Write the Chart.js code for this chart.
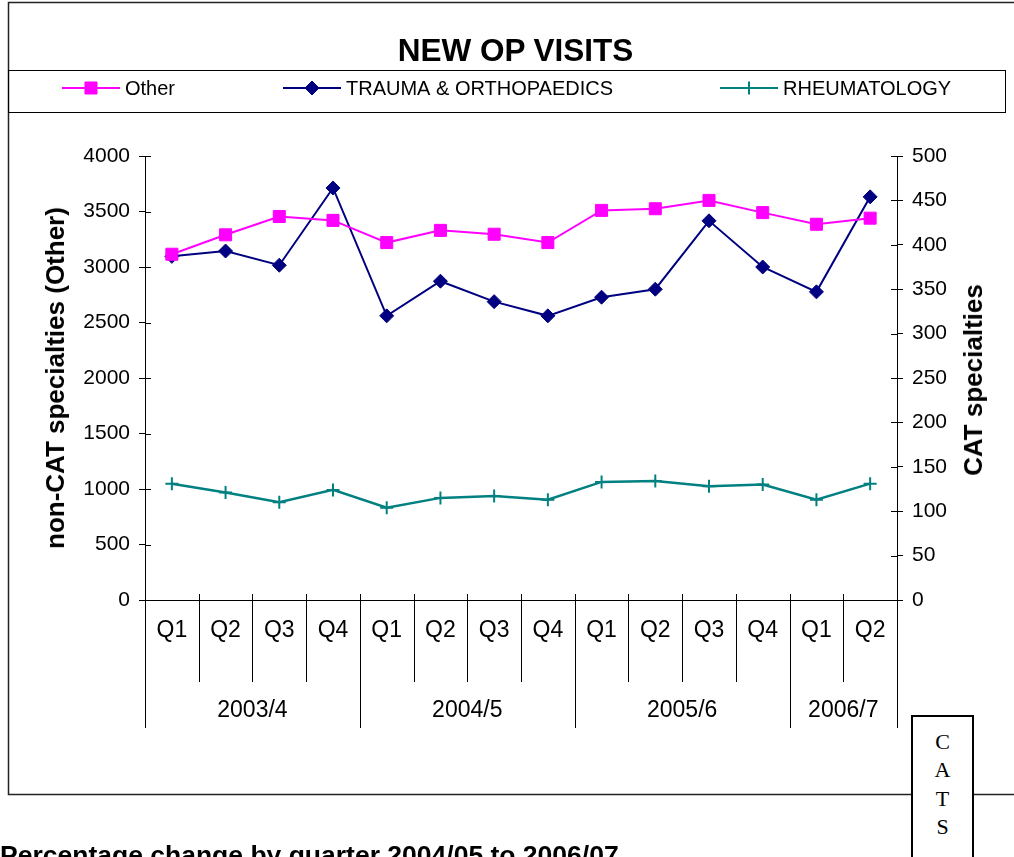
<!DOCTYPE html>
<html>
<head>
<meta charset="utf-8">
<script src="https://cdn.jsdelivr.net/npm/chart.js@4/dist/chart.umd.min.js"></script>
<style>
  html, body { margin:0; padding:0; background:#fff; }
  body { width:1014px; height:857px; overflow:hidden; position:relative; font-family:'Liberation Sans', Arial, sans-serif; }
  canvas { position:absolute; left:0; top:0; }
  #title { position:absolute; left:515.5px; top:35px; transform:translateX(-50%); font-weight:bold; font-size:31.5px; line-height:31px; white-space:nowrap; color:#000; }
  .axisTitle { position:absolute; font-weight:bold; font-size:26px; line-height:26px; white-space:nowrap; color:#000; transform:translate(-50%,-50%) rotate(-90deg); }
  #cats { position:absolute; left:911px; top:715px; width:63px; height:160px; border:2px solid #000; background:#fff; font-family:'Liberation Serif','Times New Roman',serif; font-size:22px; line-height:28.3px; text-align:center; padding-top:11px; box-sizing:border-box; color:#000; }
  #bottomText { position:absolute; left:0; top:842px; font-weight:bold; font-size:26.5px; line-height:26px; white-space:nowrap; color:#000; }
</style>
</head>
<body>
<canvas id="c" width="1014" height="857"></canvas>
<div id="title">NEW OP VISITS</div>
<div class="axisTitle" style="left:54.5px; top:378px;">non-CAT specialties (Other)</div>
<div class="axisTitle" style="left:972.5px; top:380px;">CAT specialties</div>
<div id="cats">C<br>A<br>T<br>S</div>
<div id="bottomText">Percentage change by quarter 2004/05 to 2006/07</div>
<script>
const quarters = ['Q1','Q2','Q3','Q4','Q1','Q2','Q3','Q4','Q1','Q2','Q3','Q4','Q1','Q2'];
const years = ['2003/4','2004/5','2005/6','2006/7'];
const quartersPerYear = [4,4,4,2];
const seriesNames = ['Other','TRAUMA & ORTHOPAEDICS','RHEUMATOLOGY'];
const otherVisits = [3115,3290,3455,3420,3220,3330,3295,3220,3510,3525,3600,3490,3385,3440];
const traumaVisits = [387,393,377,464,320,359,336,320,341,350,427,375,347,454];
const rheumVisits = [131,121,110,124,104,115,117,113,133,134,128,130,113,131];
const leftAxisMax = 4000, leftAxisStep = 500;
const rightAxisMax = 500, rightAxisStep = 50;

const FONT = "'Liberation Sans', Arial, sans-serif";
Chart.defaults.font.family = FONT;
Chart.defaults.color = '#000';

function drawMarker(ctx, style, x, y, r, color, bw) {
  ctx.save();
  ctx.fillStyle = color; ctx.strokeStyle = color; ctx.lineWidth = bw;
  ctx.beginPath();
  if (style === 'rect') {
    const s = Math.SQRT1_2 * r;
    ctx.rect(x - s, y - s, 2*s, 2*s); ctx.fill(); ctx.stroke();
  } else if (style === 'rectRot') {
    ctx.moveTo(x - r, y); ctx.lineTo(x, y - r); ctx.lineTo(x + r, y); ctx.lineTo(x, y + r); ctx.closePath();
    ctx.fill(); ctx.stroke();
  } else if (style === 'cross') {
    ctx.moveTo(x, y - r); ctx.lineTo(x, y + r); ctx.moveTo(x - r, y); ctx.lineTo(x + r, y); ctx.stroke();
  }
  ctx.restore();
}

const decor = {
  id: 'decor',
  afterDraw(chart) {
    const ctx = chart.ctx;
    const ca = chart.chartArea;
    const xs = chart.scales.x, yl = chart.scales.y, yr = chart.scales.y1;
    ctx.save();
    // outer border
    ctx.strokeStyle = '#222'; ctx.lineWidth = 1.5;
    ctx.strokeRect(8.5, 2.5, 1030, 792);
    // legend box
    ctx.strokeStyle = '#000'; ctx.lineWidth = 1;
    ctx.strokeRect(8.5, 70.5, 997, 42);
    const legendX = [62, 283, 720];
    chart.data.datasets.forEach((ds, i) => {
      const x0 = legendX[i], y = 88;
      ctx.strokeStyle = ds.borderColor; ctx.lineWidth = 2;
      ctx.beginPath(); ctx.moveTo(x0, y); ctx.lineTo(x0 + 58, y); ctx.stroke();
      drawMarker(ctx, ds.pointStyle, x0 + 29, y, ds.pointRadius, ds.borderColor, ds.pointBorderWidth);
      ctx.fillStyle = '#000'; ctx.font = '20px ' + FONT; ctx.textAlign = 'left'; ctx.textBaseline = 'alphabetic';
      ctx.fillText(ds.label, x0 + 63, y + 7);
    });
    // inner half ticks on value axes
    ctx.strokeStyle = '#000'; ctx.lineWidth = 1;
    ctx.beginPath();
    yl.ticks.forEach((t, i) => {
      const py = Math.round(yl.getPixelForTick(i)) + 0.5;
      ctx.moveTo(ca.left, py); ctx.lineTo(ca.left + 6, py);
    });
    yr.ticks.forEach((t, i) => {
      const py = Math.round(yr.getPixelForTick(i)) + 0.5;
      ctx.moveTo(ca.right - 6, py); ctx.lineTo(ca.right, py);
    });
    ctx.stroke();
    // category separators
    const n = quarters.length;
    const step = (ca.right - ca.left) / n;
    const yearBounds = [0];
    quartersPerYear.forEach(q => yearBounds.push(yearBounds[yearBounds.length - 1] + q));
    ctx.beginPath();
    for (let i = 0; i <= n; i++) {
      const bx = Math.round(ca.left + i * step) + 0.5;
      const isYear = yearBounds.includes(i);
      ctx.moveTo(bx, ca.bottom - 6); ctx.lineTo(bx, isYear ? 728 : 682);
    }
    ctx.stroke();
    // year labels
    ctx.fillStyle = '#000'; ctx.font = '23px ' + FONT; ctx.textAlign = 'center'; ctx.textBaseline = 'middle';
    let start = 0;
    years.forEach((yname, k) => {
      const end = start + quartersPerYear[k];
      const cx = (xs.getPixelForValue(start) + xs.getPixelForValue(end - 1)) / 2;
      ctx.fillText(yname, cx, 711);
      start = end;
    });
    ctx.restore();
  }
};

const plainTick = v => String(v);

new Chart(document.getElementById('c'), {
  type: 'line',
  data: {
    labels: quarters,
    datasets: [
      { label: seriesNames[0], data: otherVisits, yAxisID: 'y', borderColor: '#FF00FF', backgroundColor: '#FF00FF',
        borderWidth: 2, pointStyle: 'rect', pointRadius: 8.5, pointBorderWidth: 1, tension: 0 },
      { label: seriesNames[1], data: traumaVisits, yAxisID: 'y1', borderColor: '#000080', backgroundColor: '#000080',
        borderWidth: 2, pointStyle: 'rectRot', pointRadius: 7, pointBorderWidth: 1, tension: 0 },
      { label: seriesNames[2], data: rheumVisits, yAxisID: 'y1', borderColor: '#008080', backgroundColor: '#008080',
        borderWidth: 2.5, pointStyle: 'cross', pointRadius: 6.5, pointBorderWidth: 2, tension: 0 }
    ]
  },
  options: {
    responsive: false,
    animation: false,
    devicePixelRatio: 1,
    layout: { padding: { top: 156, left: 0, right: 0, bottom: 0 } },
    plugins: { legend: { display: false }, title: { display: false }, tooltip: { enabled: false } },
    scales: {
      x: {
        type: 'category', offset: true,
        grid: { display: false, drawTicks: false },
        border: { display: true, color: '#000', width: 1 },
        ticks: { font: { size: 23 }, color: '#000', padding: 17, maxRotation: 0, autoSkip: false },
        afterFit(scale) { scale.height = 257; }
      },
      y: {
        position: 'left', min: 0, max: leftAxisMax,
        ticks: { stepSize: leftAxisStep, font: { size: 21 }, color: '#000', padding: 9, callback: plainTick },
        grid: { drawOnChartArea: false, drawTicks: true, tickLength: 6, color: '#000' },
        border: { display: true, color: '#000', width: 1 },
        afterFit(scale) { scale.width = 145; }
      },
      y1: {
        position: 'right', min: 0, max: rightAxisMax,
        ticks: { stepSize: rightAxisStep, font: { size: 21 }, color: '#000', padding: 9, callback: plainTick },
        grid: { drawOnChartArea: false, drawTicks: true, tickLength: 6, color: '#000' },
        border: { display: true, color: '#000', width: 1 },
        afterFit(scale) { scale.width = 117; }
      }
    }
  },
  plugins: [decor]
});
</script>
</body>
</html>
